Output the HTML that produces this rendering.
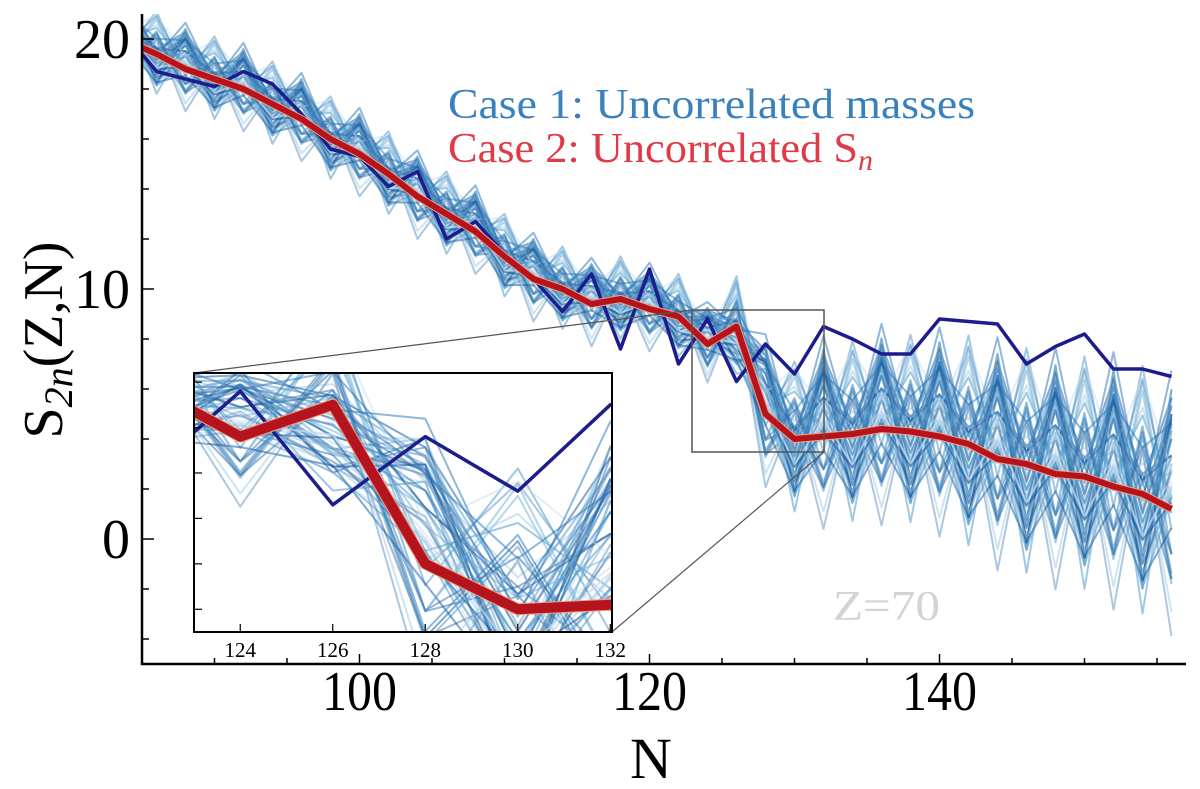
<!DOCTYPE html>
<html><head><meta charset="utf-8">
<style>
html,body{margin:0;padding:0;background:#fff;overflow:hidden;width:1200px;height:789px;}
svg{display:block;font-family:"Liberation Serif",serif;}
</style></head>
<body>
<svg id="chart" width="1200" height="789" viewBox="0 0 1200 789" xmlns="http://www.w3.org/2000/svg">
<defs>
<clipPath id="mainClip"><rect x="142" y="14" width="1044" height="650"/></clipPath>
<clipPath id="insetClip"><rect x="194" y="373" width="418" height="259"/></clipPath>
</defs>
<g id="mainMarks" clip-path="url(#mainClip)"></g>
<g id="axes"></g>
<line x1="692" y1="310" x2="194" y2="373" stroke="#555" stroke-width="1.2"/>
<line x1="824" y1="452" x2="612" y2="632" stroke="#555" stroke-width="1.2"/>
<rect x="692" y="310" width="132" height="142" fill="none" stroke="#555" stroke-width="1.5"/>
<rect x="194" y="373" width="418" height="259" fill="#fff"/>
<g id="insetMarks" clip-path="url(#insetClip)"></g>
<rect x="194" y="373" width="418" height="259" fill="none" stroke="#000" stroke-width="2"/>
<g id="insetAxes"></g>
<text x="448" y="118" font-size="42" fill="#3a80be" textLength="527" lengthAdjust="spacingAndGlyphs">Case 1: Uncorrelated masses</text>
<text x="448" y="162" font-size="42" fill="#df3a45"><tspan textLength="410" lengthAdjust="spacingAndGlyphs">Case 2: Uncorrelated S</tspan><tspan font-size="30" dy="8" font-style="italic">n</tspan></text>
<text x="833" y="620" font-size="42" fill="#d3d3d3" textLength="107" lengthAdjust="spacingAndGlyphs">Z=70</text>
<text x="651" y="778" font-size="58" text-anchor="middle">N</text>
<text transform="translate(62,340) rotate(-90)" font-size="56" text-anchor="middle">S<tspan font-size="40" dy="10" font-style="italic">2n</tspan><tspan dy="-10">(Z,N)</tspan></text>
</svg>
<script>
const nValues = [84,86,88,90,92,94,96,98,100,102,104,106,108,110,112,114,116,118,120,122,124,126,128,130,132,134,136,138,140,142,144,146,148,150,152,154,156];
const meanS2n = [19.9,19.4,18.8,18.4,18.0,17.4,16.8,16.0,15.4,14.6,13.7,13.0,12.3,11.3,10.4,10.0,9.4,9.6,9.2,8.9,7.8,8.5,5.0,4.0,4.1,4.2,4.4,4.3,4.1,3.8,3.2,3.0,2.6,2.5,2.1,1.8,1.2];
const expS2n = [20.1,18.7,18.4,18.1,18.7,18.2,17.0,15.6,15.3,14.1,14.7,12.0,12.7,11.4,10.4,9.1,10.6,7.6,10.8,7.0,8.8,6.3,7.8,6.6,8.5,8.0,7.4,7.4,8.8,8.7,8.6,7.0,7.7,8.2,6.8,6.8,6.5];
const spread = [1.1,1.1,1.1,1.1,1.1,1.1,1.1,1.1,1.1,1.1,1.1,1.1,1.1,1.1,1.1,1.1,1.1,1.1,1.1,1.1,1.0,1.3,1.9,2.0,2.4,2.4,2.5,2.5,2.6,2.8,2.9,3.0,3.0,3.1,3.2,3.3,3.3];
const memberAmp = [0.9,0.6,1.1,0.4,0.8,1.3,0.5,0.7,1.0,0.3,0.9,1.2,0.6,0.8,0.2,1.0,0.7,0.5,1.1,0.9,0.4,0.6,1.2,0.8,0.3,1.0,0.7,0.9,0.5,1.1];
const memberBias = [0.1,-0.3,0.2,0.4,-0.1,0.0,-0.5,0.3,-0.2,0.5,0.2,-0.4,0.1,-0.2,0.3,0.0,-0.6,0.4,-0.1,0.2,-0.3,0.6,0.0,-0.4,0.1,0.3,-0.2,0.5,-0.5,-0.1];
const memberPhase = [0,0,0,1,0,0,1,0,0,0,1,0,0,1,0,0,0,1,0,0,1,0,0,0,1,0,0,1,0,0];
const xTicks = [100,120,140];
const yTicks = [0,10,20];
const insetXTicks = [124,126,128,130,132];

const NS="http://www.w3.org/2000/svg";
const xs = n => 142 + (n-85)*14.5;
const ys = v => 14 + (21-v)*25;
const xi = n => 194 + (n-123)*46.25;
const yi = v => 373 + (9.2-v)*(259/5.7);
const blues = ["#c6dbef","#9ecae1","#6baed6","#4292c6","#2171b5","#08519c","#3a6ea5","#5a8fc4"];

function mk(tag, attrs, parent){const e=document.createElementNS(NS,tag);for(const k in attrs)e.setAttribute(k,attrs[k]);parent.appendChild(e);return e;}
function pts(vals, fx, fy){return vals.map((v,i)=>fx(nValues[i]).toFixed(1)+","+fy(v).toFixed(1)).join(" ");}
function memberVals(k, pass){
  const a = pass===0 ? memberAmp[k] : memberAmp[(k+7)%memberAmp.length]*0.8;
  const b = pass===0 ? memberBias[k] : -memberBias[(k+11)%memberBias.length]*1.3;
  const ph = pass===0 ? memberPhase[k] : memberPhase[(k+5)%memberPhase.length];
  return meanS2n.map((m,i)=>m+spread[i]*(b+0.15+a*((i+ph)%2===0?1:-1)));
}

function drawSet(parent, fx, fy, w, redW){
  for(let pass=0;pass<2;pass++){
    for(let k=0;k<memberAmp.length;k++){
      const p=mk("polyline",{points:pts(memberVals(k,pass),fx,fy),fill:"none",stroke:blues[(k+pass*3)%blues.length],"stroke-width":w,"stroke-opacity":0.5,"stroke-linejoin":"round"},parent);
      
      
    }
  }
  const e=mk("polyline",{points:pts(expS2n,fx,fy),fill:"none",stroke:"#1c1c8c","stroke-width":w+1.5,"stroke-linejoin":"round"},parent);
  
  
  const r1=mk("polyline",{points:pts(meanS2n,fx,fy),fill:"none",stroke:"#f2a07a","stroke-width":redW+2,"stroke-linejoin":"round"},parent);
  
  
  const r2=mk("polyline",{points:pts(meanS2n,fx,fy),fill:"none",stroke:"#b5141f","stroke-width":redW,"stroke-linejoin":"round"},parent);
  
  
}
drawSet(document.getElementById("mainMarks"), xs, ys, 2, 6);
drawSet(document.getElementById("insetMarks"), xi, yi, 2, 10);

const ax=document.getElementById("axes");
const ls=mk("line",{x1:142,y1:14,x2:142,y2:665,stroke:"#000","stroke-width":2.5},ax);


const bs=mk("line",{x1:141,y1:664,x2:1186,y2:664,stroke:"#000","stroke-width":2.5},ax);


for(let n=90;n<=155;n+=5){
  const t=mk("line",{x1:xs(n),y1:664,x2:xs(n),y2:xTicks.includes(n)?654:658,stroke:"#000","stroke-width":1.5},ax);
  
  
}
xTicks.forEach(n=>{
  const t=mk("text",{x:xs(n),y:710,"font-size":56,"text-anchor":"middle",textLength:75,lengthAdjust:"spacingAndGlyphs"},ax);t.textContent=n;
  
  
});
for(let v=-4;v<=20;v+=2){
  const t=mk("line",{x1:142,y1:ys(v),x2:yTicks.includes(v)?154:149,y2:ys(v),stroke:"#000","stroke-width":1.5},ax);
  
  
}
yTicks.forEach(v=>{
  const t=mk("text",{x:130,y:ys(v)+19,"font-size":56,"text-anchor":"end"},ax);t.textContent=v;
  
  
});
const iax=document.getElementById("insetAxes");
insetXTicks.forEach(n=>{
  const t=mk("line",{x1:xi(n),y1:632,x2:xi(n),y2:624,stroke:"#000","stroke-width":1.2},iax);
  
  
  const l=mk("text",{x:xi(n),y:657,"font-size":21,"text-anchor":"middle"},iax);l.textContent=n;
  
  
});
for(let v=4;v<=9;v++){
  const t=mk("line",{x1:194,y1:yi(v),x2:202,y2:yi(v),stroke:"#000","stroke-width":1.2},iax);
  
  
}
</script>
</body></html>
